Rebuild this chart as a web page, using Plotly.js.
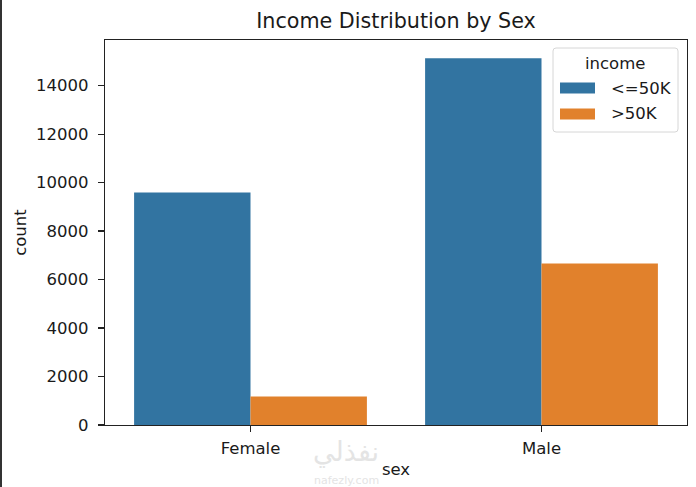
<!DOCTYPE html>
<html>
<head>
<meta charset="utf-8">
<script src="https://cdn.plot.ly/plotly-3.0.1.min.js"></script>
<style>
  html, body { margin: 0; padding: 0; background: #fff; }
  #chart { width: 694px; height: 487px; border-left: 2px solid #333; }
</style>
</head>
<body>
<div id="chart"></div>
<script>
// values (adult census counts by sex and income)
const sexes = ["Female", "Male"];
const incomeLevels = ["<=50K", ">50K"];
const countsLow = [9592, 15128];
const countsHigh = [1179, 6662];
const yTicks = [0, 2000, 4000, 6000, 8000, 10000, 12000, 14000];

const colors = ["#3274a1", "#e1812c"];
const textColor = "#1a1a1a";
const font = "DejaVu Sans, sans-serif";

// plot box in page pixels, used to place the hand drawn legend
const W = 694, H = 487;
const box = { l: 103, r: 9, t: 40, b: 62 };
const pw = W - box.l - box.r, ph = H - box.t - box.b;
const px = (x) => (x - 2 - box.l) / pw;
const py = (y) => (H - box.b - y) / ph;

const traces = [countsLow, countsHigh].map((vals, i) => ({
  type: "bar",
  name: incomeLevels[i],
  x: sexes,
  y: vals,
  marker: { color: colors[i], line: { width: 0 } },
  showlegend: false,
  hoverinfo: "x+y+name",
}));

// legend frame with rounded corners
function roundRect(x0, y0, x1, y1, r) {
  const rx = r / pw, ry = r / ph;
  const a = px(x0), b = px(x1), c = py(y0), d = py(y1);
  return `M${a + rx},${c} L${b - rx},${c} Q${b},${c} ${b},${c - ry} ` +
    `L${b},${d + ry} Q${b},${d} ${b - rx},${d} L${a + rx},${d} ` +
    `Q${a},${d} ${a},${d + ry} L${a},${c - ry} Q${a},${c} ${a + rx},${c} Z`;
}

const shapes = [
  {
    type: "path", xref: "paper", yref: "paper",
    path: roundRect(553, 48, 678, 132, 3),
    fillcolor: "rgba(255,255,255,0.8)",
    line: { color: "#d6d6d6", width: 1 },
  },
];
const annotations = [
  {
    xref: "paper", yref: "paper", x: px(615), y: py(63),
    text: "income", showarrow: false, xanchor: "center", yanchor: "middle",
    font: { family: font, size: 16.5, color: textColor },
  },
];
incomeLevels.forEach((lab, i) => {
  const cy = 88 + i * 26;
  shapes.push({
    type: "rect", xref: "paper", yref: "paper",
    x0: px(560), x1: px(595), y0: py(cy - 5.5), y1: py(cy + 5.5),
    fillcolor: colors[i], line: { width: 0 },
  });
  annotations.push({
    xref: "paper", yref: "paper", x: px(609), y: py(cy),
    text: lab, showarrow: false, xanchor: "left", yanchor: "middle",
    font: { family: font, size: 16.5, color: textColor },
  });
});

// faint site watermark under the axis
annotations.push(
  {
    xref: "paper", yref: "paper", x: px(346), y: py(452),
    text: "نفذلي", showarrow: false, xanchor: "center", yanchor: "middle",
    font: { family: "DejaVu Sans, sans-serif", size: 27, color: "#e4e4e4" },
  },
  {
    xref: "paper", yref: "paper", x: px(346), y: py(480),
    text: "nafezly.com", showarrow: false, xanchor: "center", yanchor: "middle",
    font: { family: font, size: 11, color: "#e4e4e4" },
  }
);

const axisCommon = {
  showline: true, mirror: true, linecolor: "#222", linewidth: 1.2,
  showgrid: false, zeroline: false,
  ticks: "outside", ticklen: 6, tickwidth: 1.2, tickcolor: "#222",
  tickfont: { family: font, size: 16.5, color: textColor },
};

const layout = {
  width: W, height: H,
  margin: { l: box.l, r: box.r, t: box.t, b: box.b },
  paper_bgcolor: "#fff", plot_bgcolor: "#fff",
  title: {
    text: "Income Distribution by Sex",
    x: 0.5, xref: "paper", y: 1 - 21 / H, yref: "container", yanchor: "middle",
    font: { family: font, size: 20.7, color: textColor },
  },
  barmode: "group", bargap: 0.2, bargroupgap: 0,
  xaxis: Object.assign({}, axisCommon, {
    type: "category", range: [-0.5, 1.5],
    ticklabelstandoff: 2,
    title: { text: "sex", standoff: 6, font: { family: font, size: 16.5, color: textColor } },
  }),
  yaxis: Object.assign({}, axisCommon, {
    range: [0, 15884], tickvals: yTicks, ticktext: yTicks.map(String),
    ticklabelstandoff: 6,
    title: { text: "count", standoff: 5, font: { family: font, size: 16.5, color: textColor } },
  }),
  shapes: shapes,
  annotations: annotations,
};

Plotly.newPlot("chart", traces, layout, { displayModeBar: false, staticPlot: true });
</script>
</body>
</html>
